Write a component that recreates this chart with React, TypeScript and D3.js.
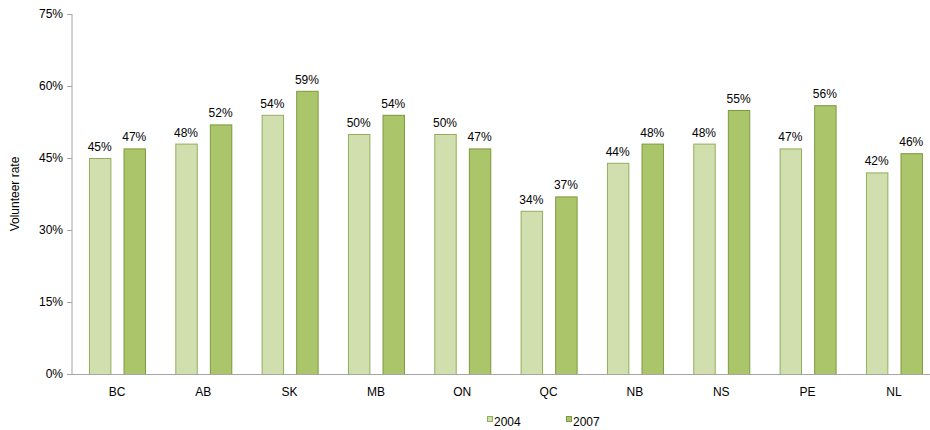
import { useEffect, useRef } from "react";
import * as d3 from "d3";

const provinces = ["BC", "AB", "SK", "MB", "ON", "QC", "NB", "NS", "PE", "NL"];
const rate2004 = [45, 48, 54, 50, 50, 34, 44, 48, 47, 42];
const rate2007 = [47, 52, 59, 54, 47, 37, 48, 55, 56, 46];
const yTicks = [0, 15, 30, 45, 60, 75];
const seriesNames = ["2004", "2007"];

const FILLS = ["#d0dfad", "#abc56b"];
const STROKES = ["#93ad5e", "#7b9a3e"];
const FONT = "'Liberation Sans', Arial, sans-serif";

export default function App() {
  const ref = useRef<HTMLDivElement>(null);

  useEffect(() => {
    if (!ref.current) return;
    const container = ref.current;
    d3.select(container).select("svg").remove();

    const width = 930;
    const height = 430;
    const marginTop = 14;
    const marginLeft = 72;
    const marginBottom = 56;

    // category bands: first centre at ~117, step ~86.3
    const x = d3.scaleBand()
      .domain(provinces)
      .range([73.8, 73.8 + 86.33 * provinces.length]);

    const xInner = d3.scaleBand()
      .domain(seriesNames)
      .range([0, 56])
      .paddingInner(0.38);

    const y = d3.scaleLinear()
      .domain([0, 75])
      .range([height - marginBottom, marginTop]);

    const svg = d3.create("svg")
      .attr("width", width)
      .attr("height", height)
      .attr("viewBox", [0, 0, width, height])
      .attr("style", `display:block; font: 12px ${FONT};`);

    // y axis
    svg.append("g")
      .attr("transform", `translate(${marginLeft},0)`)
      .call(d3.axisLeft(y).tickValues(yTicks).tickSize(5).tickPadding(4).tickFormat(d => `${d}%`))
      .call(g => g.select(".domain").attr("stroke", "#a6a6a6").attr("d", `M0,${y(75)}V${y(0)}`))
      .call(g => g.selectAll(".tick line").attr("stroke", "#a6a6a6"))
      .call(g => g.selectAll(".tick text").attr("fill", "#000").attr("font-size", 12)
        .attr("font-family", FONT));

    svg.append("text")
      .attr("transform", `translate(19,${(y(0) + y(75)) / 2}) rotate(-90)`)
      .attr("text-anchor", "middle")
      .text("Volunteer rate");

    const series = [rate2004, rate2007];
    const data = provinces.flatMap((p, i) =>
      seriesNames.map((s, k) => ({ p, s, k, v: series[k][i] })));

    const groupX = (p: string) => (x(p) ?? 0) + x.bandwidth() / 2 - 28;

    svg.append("g")
      .selectAll("rect")
      .data(data)
      .join("rect")
        .attr("x", d => groupX(d.p) + (xInner(d.s) ?? 0) + 0.5)
        .attr("y", d => y(d.v) + 0.5)
        .attr("width", xInner.bandwidth())
        .attr("height", d => y(0) - y(d.v))
        .attr("fill", d => FILLS[d.k])
        .attr("stroke", d => STROKES[d.k])
        .attr("stroke-width", 1);

    svg.append("g")
      .attr("text-anchor", "middle")
      .selectAll("text")
      .data(data)
      .join("text")
        .attr("x", d => groupX(d.p) + (xInner(d.s) ?? 0) + xInner.bandwidth() / 2)
        .attr("y", d => y(d.v) - 7)
        .text(d => `${d.v}%`);

    // x axis
    svg.append("line")
      .attr("x1", marginLeft)
      .attr("x2", width)
      .attr("y1", y(0) + 0.5)
      .attr("y2", y(0) + 0.5)
      .attr("stroke", "#a6a6a6");

    svg.append("g")
      .attr("text-anchor", "middle")
      .selectAll("text")
      .data(provinces)
      .join("text")
        .attr("x", d => (x(d) ?? 0) + x.bandwidth() / 2)
        .attr("y", y(0) + 22)
        .text(d => d);

    // legend
    const legend = svg.append("g")
      .selectAll("g")
      .data(seriesNames)
      .join("g")
        .attr("transform", (_, i) => `translate(${487 + i * 79},${416})`);
    legend.append("rect")
      .attr("x", 0.5)
      .attr("y", 0.5)
      .attr("width", 5)
      .attr("height", 5)
      .attr("fill", (_, i) => FILLS[i])
      .attr("stroke", (_, i) => STROKES[i]);
    legend.append("text")
      .attr("x", 7)
      .attr("y", 9.5)
      .text(d => d);

    container.append(svg.node()!);
  }, []);

  return <div ref={ref} style={{ position: "absolute", left: 0, top: 0 }} />;
}
